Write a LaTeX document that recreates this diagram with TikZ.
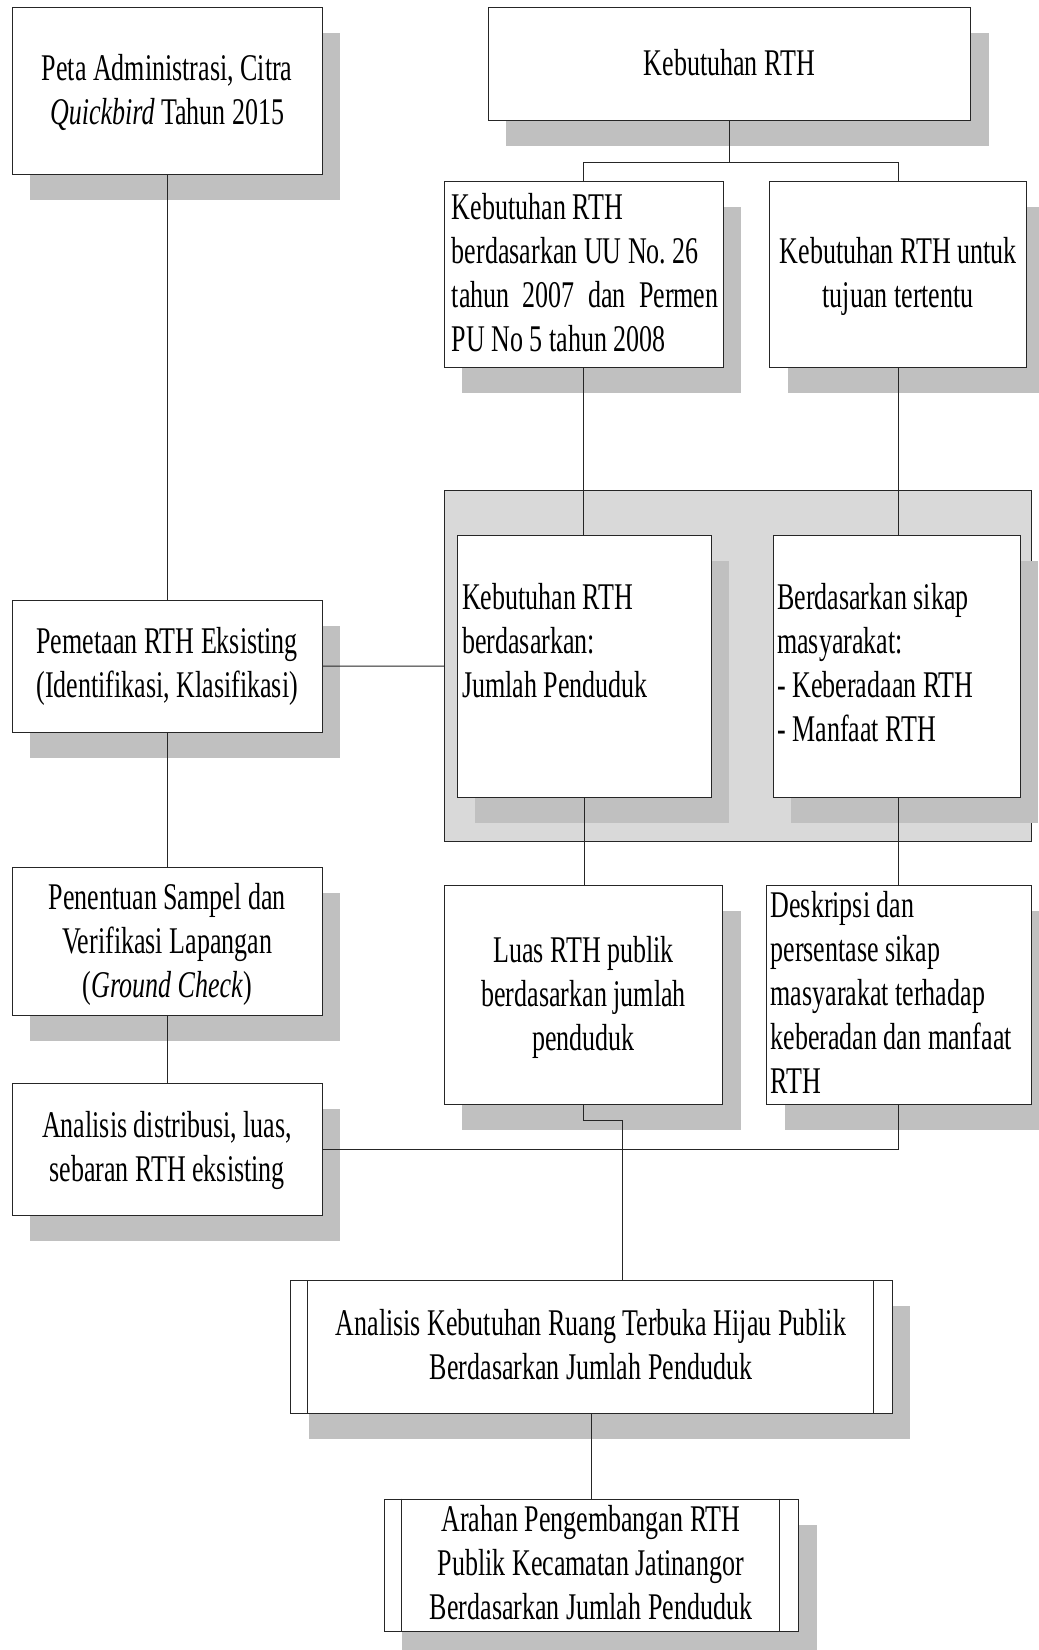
\documentclass[tikz,border=0pt]{standalone}
\usepackage{fontspec}
\setmainfont{Liberation Serif}[FakeStretch=0.69]
\usetikzlibrary{shadows,calc}
\definecolor{shadowgray}{HTML}{C0C0C0}
\definecolor{panelgray}{HTML}{D9D9D9}
\definecolor{linegray}{HTML}{262626}
\tikzset{
  boxsty/.style={draw=linegray, line width=1pt, fill=white, inner sep=0pt, rectangle,
    drop shadow={shadow xshift=18pt, shadow yshift=-25.5pt, fill=shadowgray, opacity=1}},
  panelsty/.style={draw=linegray, line width=1pt, fill=panelgray, inner sep=0pt, rectangle},
  lblc/.style={inner sep=0pt, anchor=base, align=center, text width=#1,
    execute at begin node={\spaceskip=6.5pt\xspaceskip=6.5pt\relax}},
  lblc/.default=300pt,
  lbll/.style={inner sep=0pt, anchor=base west, align=left, text width=#1,
    execute at begin node={\spaceskip=6.5pt\xspaceskip=6.5pt\relax}},
  lbll/.default=300pt,
  conn/.style={draw=linegray, line width=1pt}
}
\begin{document}
\begin{tikzpicture}[x=1pt,y=-1pt,font=\fontsize{37.7}{44}\selectfont]
\useasboundingbox (0,0) rectangle (1039,1650);
\clip (0,0) rectangle (1039,1650);
\fill[white] (0,0) rectangle (1039,1650);

% panel
\node[panelsty, minimum width=587.1pt, minimum height=351pt] (G) at (738,666.2) {};

% boxes
\node[boxsty, minimum width=309.7pt, minimum height=167.4pt] (A) at (167.15,91) {};
\node[boxsty, minimum width=482.6pt, minimum height=113.4pt] (B) at (729.3,64) {};
\node[boxsty, minimum width=278.7pt, minimum height=186pt] (C) at (583.65,274.7) {};
\node[boxsty, minimum width=256.8pt, minimum height=186pt] (D) at (898.2,274.7) {};
\node[boxsty, minimum width=253.9pt, minimum height=262.3pt] (E) at (584.35,666.15) {};
\node[boxsty, minimum width=247pt, minimum height=262.3pt] (F) at (896.5,666.15) {};
\node[boxsty, minimum width=309.7pt, minimum height=132.3pt] (H) at (167.15,666.15) {};
\node[boxsty, minimum width=309.7pt, minimum height=148.4pt] (I) at (167.15,941.5) {};
\node[boxsty, minimum width=309.7pt, minimum height=132.4pt] (J) at (167.15,1149.5) {};
\node[boxsty, minimum width=278.4pt, minimum height=218.3pt] (K) at (583.6,994.85) {};
\node[boxsty, minimum width=264.9pt, minimum height=218.3pt] (L) at (898.95,994.85) {};
\node[boxsty, minimum width=601.6pt, minimum height=132.6pt] (M) at (591.5,1347) {};
\node[boxsty, minimum width=414.4pt, minimum height=132pt] (N) at (591.5,1565) {};

% predefined-process inner bars
\draw[conn] ([xshift=17.6pt]M.north west) -- ([xshift=17.6pt]M.south west);
\draw[conn] ([xshift=-19.6pt]M.north east) -- ([xshift=-19.6pt]M.south east);
\draw[conn] ([xshift=18pt]N.north west) -- ([xshift=18pt]N.south west);
\draw[conn] ([xshift=-19.4pt]N.north east) -- ([xshift=-19.4pt]N.south east);

% connectors
\coordinate (Bsplit) at (729.3,162.7);
\draw[conn] (B.south) -- (Bsplit);
\draw[conn] (C.north) -- (C.north |- Bsplit) -- (D.north |- Bsplit) -- (D.north);
\draw[conn] (A.south) -- (H.north);
\draw[conn] (H.south) -- (I.north);
\draw[conn] (I.south) -- (J.north);
\draw[conn] (H.east) -- (G.west);
\draw[conn] (C.south) -- (C.south |- E.north);
\draw[conn] (D.south) -- (D.south |- F.north);
\draw[conn] (E.south) -- (E.south |- K.north);
\draw[conn] (L.north |- F.south) -- (L.north);
\coordinate (Kbend) at (622.8,1120.7);
\draw[conn] (K.south) |- (Kbend) -- (Kbend |- M.north);
\draw[conn] (J.east) -| (L.south);
\draw[conn] (M.south) -- (N.north);

% texts
\node[lblc] (tA) at (167.15,80) {Peta Administrasi, Citra\\\textit{Quickbird} Tahun 2015};
\node[lblc=460pt] (tB) at (729.3,75.7) {Kebutuhan RTH};
\node[lbll=266.6pt] (tC) at (451.7,219.5) {Kebutuhan RTH\\berdasarkan UU No. 26\\tahun\hfill 2007\hfill dan\hfill Permen\\PU No 5 tahun 2008};
\node[lblc=250pt] (tD) at (898.2,263.5) {Kebutuhan RTH untuk\\tujuan tertentu};
\node[lbll=245pt] (tE) at (462,609) {Kebutuhan RTH\\berdasarkan:\\Jumlah Penduduk};
\node[lbll=240pt] (tF) at (777,609) {Berdasarkan sikap\\masyarakat:\\- Keberadaan RTH\\- Manfaat RTH};
\node[lblc] (tH) at (167.15,653) {Pemetaan RTH Eksisting\\(Identifikasi, Klasifikasi)};
\node[lblc] (tI) at (167.15,909.5) {Penentuan Sampel dan\\Verifikasi Lapangan\\(\textit{Ground Check})};
\node[lblc] (tJ) at (167.15,1137.5) {Analisis distribusi, luas,\\sebaran RTH eksisting};
\node[lblc=270pt] (tK) at (583.6,962.5) {Luas RTH publik\\berdasarkan jumlah\\penduduk};
\node[lbll=258pt] (tL) at (770.4,917.5) {Deskripsi dan\\persentase sikap\\masyarakat terhadap\\keberadan dan manfaat\\RTH};
\node[lblc=560pt] (tM) at (591,1335) {Analisis Kebutuhan Ruang Terbuka Hijau Publik\\Berdasarkan Jumlah Penduduk};
\node[lblc=370pt] (tN) at (591,1531.5) {Arahan Pengembangan RTH\\Publik Kecamatan Jatinangor\\Berdasarkan Jumlah Penduduk};
\end{tikzpicture}
\end{document}
